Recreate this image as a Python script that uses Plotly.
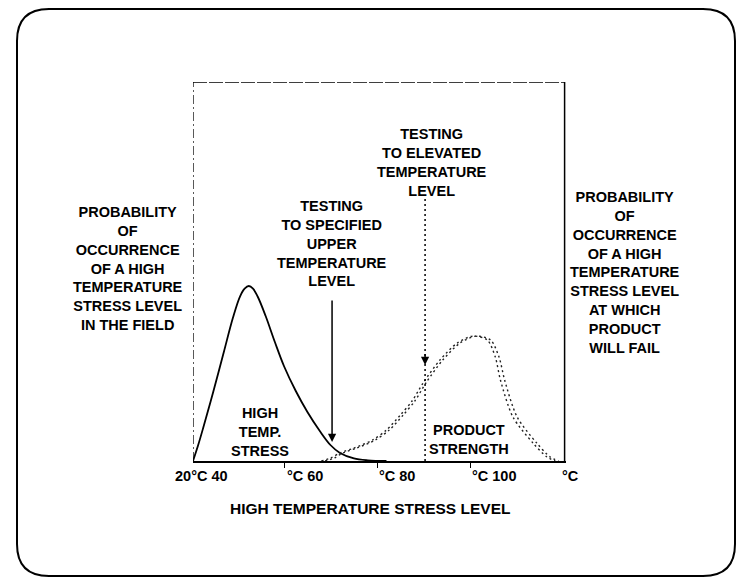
import plotly.graph_objects as go

W, H = 739, 578

# Field stress distribution (solid curve): temperature, relative probability
stress_x = [20.4, 21.5, 22.6, 24.7, 27.0, 29.0, 30.5, 31.5, 32.4, 33.3, 34.3, 36.0, 38.0,
            40.0, 42.5, 45.0, 47.7, 50.0, 52.0, 55.0, 58.0, 62.0]
stress_y = [0.0, 0.09, 0.19, 0.39, 0.62, 0.82, 0.94, 0.985, 1.0, 0.985, 0.94, 0.83, 0.68,
            0.54, 0.40, 0.28, 0.17, 0.09, 0.046, 0.015, 0.004, 0.0]

# Product strength distribution (doubled dotted curve)
strength_x_a = [48.0, 50.0, 52.0, 55.0, 59.0, 62.0, 65.0, 67.5, 70.0, 73.5, 77.2, 80.6,
                83.7, 85.4, 86.5, 89.2, 93.5, 96.5, 98.3]
strength_y_a = [0.0, 0.017, 0.046, 0.074, 0.12, 0.177, 0.263, 0.343, 0.451, 0.577, 0.674,
                0.714, 0.691, 0.594, 0.463, 0.251, 0.103, 0.023, 0.0]
strength_x_b = [48.8, 50.8, 52.6, 55.6, 59.6, 62.6, 65.6, 68.1, 70.6, 74.1, 77.8, 81.3,
                84.4, 86.2, 87.4, 90.1, 94.3, 97.2, 99.0]
strength_y_b = [0.0, 0.017, 0.046, 0.074, 0.12, 0.177, 0.263, 0.343, 0.451, 0.577, 0.674,
                0.714, 0.691, 0.594, 0.463, 0.251, 0.103, 0.023, 0.0]

# Test levels
specified_level = 50.3
elevated_level = 70.3

# Axis tick positions and the printed scale labels (label, left edge in px)
tick_vals = [40, 60, 80]
tick_labels = ["20°C 40", "°C 60", "°C 80", "°C 100", "°C"]
tick_label_left_px = [173, 285, 377, 470, 560]

X_RANGE = [20.4, 100.6]
Y_RANGE = [0, 2.166]

FONT = "Liberation Sans, Arial, Helvetica, sans-serif"
FS = 14.5


def px(x):
    return x / W


def py(y):
    return 1 - y / H


fig = go.Figure()

fig.add_trace(go.Scatter(x=stress_x, y=stress_y, mode="lines",
                         line=dict(color="black", width=1.8, shape="spline", smoothing=1.0),
                         hoverinfo="skip"))
for sx, sy in ((strength_x_a, strength_y_a), (strength_x_b, strength_y_b)):
    fig.add_trace(go.Scatter(x=sx, y=sy, mode="lines",
                             line=dict(color="#222", width=1.4, dash="2px,3px",
                                       shape="spline", smoothing=0.8),
                             hoverinfo="skip"))

shapes = []
# plot box: dashed left and top, solid right
shapes.append(dict(type="line", xref="x", yref="y", x0=X_RANGE[0], x1=X_RANGE[0],
                   y0=0, y1=Y_RANGE[1], line=dict(color="black", width=1.3,
                                                    dash="9px,3px,2px,3px")))
shapes.append(dict(type="line", xref="x", yref="y", x0=X_RANGE[0], x1=100.3,
                   y0=Y_RANGE[1], y1=Y_RANGE[1],
                   line=dict(color="black", width=1.3, dash="14px,2px")))
shapes.append(dict(type="line", xref="x", yref="y", x0=100.3, x1=100.3,
                   y0=0, y1=Y_RANGE[1], line=dict(color="black", width=1.5)))
# elevated test level, dotted
shapes.append(dict(type="line", xref="x", yref="y", x0=elevated_level, x1=elevated_level,
                   y0=0, y1=1.514, line=dict(color="black", width=1.5, dash="2px,3px")))

# rounded outer frame
L, R, T, B, r = 17, 735, 9, 576, 32
path = (f"M {px(L + r)} {py(T)} L {px(R - r)} {py(T)} Q {px(R)} {py(T)} {px(R)} {py(T + r)} "
        f"L {px(R)} {py(B - r)} Q {px(R)} {py(B)} {px(R - r)} {py(B)} "
        f"L {px(L + r)} {py(B)} Q {px(L)} {py(B)} {px(L)} {py(B - r)} "
        f"L {px(L)} {py(T + r)} Q {px(L)} {py(T)} {px(L + r)} {py(T)} Z")
shapes.append(dict(type="path", xref="paper", yref="paper", path=path,
                   line=dict(color="black", width=2)))

annotations = []


def text(x, y, s, xref="paper", yref="paper", size=FS, xanchor="center"):
    annotations.append(dict(x=x, y=y, xref=xref, yref=yref, text=s, showarrow=False,
                            xanchor=xanchor, yanchor="middle", align="center",
                            font=dict(family=FONT, size=size, color="black")))


def b(lines):
    return "<br>".join(f"<b>{ln}</b>" for ln in lines)


text(px(128), py(268), b(["PROBABILITY", "OF", "OCCURRENCE", "OF A HIGH",
                          "TEMPERATURE", "STRESS LEVEL", "IN THE FIELD"]))
text(px(625), py(272), b(["PROBABILITY", "OF", "OCCURRENCE", "OF A HIGH",
                          "TEMPERATURE", "STRESS LEVEL", "AT WHICH", "PRODUCT",
                          "WILL FAIL"]))
text(px(432), py(162), b(["TESTING", "TO ELEVATED", "TEMPERATURE", "LEVEL"]))
text(px(332), py(243), b(["TESTING", "TO SPECIFIED", "UPPER", "TEMPERATURE", "LEVEL"]))
text(px(260), py(432), b(["HIGH", "TEMP.", "STRESS"]))
text(px(469), py(439), b(["PRODUCT", "STRENGTH"]))
text(px(370), py(508), b(["HIGH TEMPERATURE STRESS LEVEL"]), size=15.5)

for left, tl in zip(tick_label_left_px, tick_labels):
    text(px(left), py(476), f"<b>{tl}</b>", xanchor="left")

# arrows for the two test levels
annotations.append(dict(x=specified_level, y=0.109, ax=specified_level, ay=0.926,
                        xref="x", yref="y", axref="x", ayref="y", text="",
                        showarrow=True, arrowhead=2, arrowsize=1.1, arrowwidth=1.5,
                        arrowcolor="black"))
annotations.append(dict(x=elevated_level, y=0.549, ax=elevated_level, ay=0.62,
                        xref="x", yref="y", axref="x", ayref="y", text="",
                        showarrow=True, arrowhead=2, arrowsize=1.1, arrowwidth=1.5,
                        arrowcolor="black"))

fig.update_layout(
    width=W, height=H,
    margin=dict(l=0, r=0, t=0, b=0),
    paper_bgcolor="white", plot_bgcolor="white",
    showlegend=False,
    shapes=shapes, annotations=annotations,
    xaxis=dict(domain=[px(193), px(566)], range=X_RANGE, showgrid=False, zeroline=False,
               showline=True, linecolor="black", linewidth=1.6,
               ticks="outside", tickvals=tick_vals, ticklen=5, tickwidth=1.3,
               tickcolor="black", showticklabels=False, fixedrange=True),
    yaxis=dict(domain=[1 - 461 / H, 1 - 82 / H], range=Y_RANGE, visible=False,
               fixedrange=True),
)

fig.write_html("out.html")
